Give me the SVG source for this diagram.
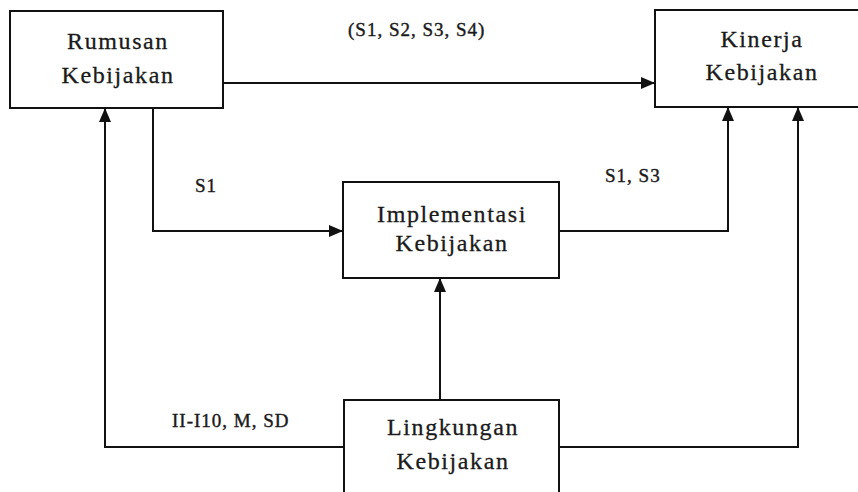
<svg xmlns="http://www.w3.org/2000/svg" width="858" height="492" viewBox="0 0 858 492">
<style>
.box{fill:#fff;stroke:#111;stroke-width:2}
.t{font-family:"Liberation Serif","Times New Roman",serif;font-size:24px;fill:#1a1a1a;stroke:#1a1a1a;stroke-width:0.3px;text-anchor:middle;letter-spacing:1.6px}
.l{font-family:"Liberation Serif","Times New Roman",serif;font-size:19px;fill:#1a1a1a;stroke:#1a1a1a;stroke-width:0.4px;letter-spacing:1px}
.c{fill:none;stroke:#111;stroke-width:2}
</style>
<defs>
<marker id="ah" viewBox="0 0 14 12" refX="14" refY="6" markerWidth="14" markerHeight="12" markerUnits="userSpaceOnUse" orient="auto">
<path d="M0,0 L14,6 L0,12 Z" fill="#111"/>
</marker>
</defs>
<rect width="858" height="492" fill="#fff"/>
<g id="connectors">
<path class="c" d="M223,83 H655" marker-end="url(#ah)"/>
<path class="c" d="M153,108 V231 H343" marker-end="url(#ah)"/>
<path class="c" d="M559,231 H728 V107" marker-end="url(#ah)"/>
<path class="c" d="M344,447 H105 V108" marker-end="url(#ah)"/>
<path class="c" d="M559,447 H798 V107" marker-end="url(#ah)"/>
<path class="c" d="M440,400 V278" marker-end="url(#ah)"/>
</g>
<g id="labels">
<text class="l" x="348" y="36">(S1, S2, S3, S4)</text>
<text class="l" x="195" y="192">S1</text>
<text class="l" x="605" y="182">S1, S3</text>
<text class="l" x="172" y="427">II-I10, M, SD</text>
</g>
<g id="rumusan">
<rect class="box" x="10" y="11" width="213" height="97"/>
<text class="t" x="118" y="49">Rumusan</text>
<text class="t" x="118" y="83">Kebijakan</text>
</g>
<g id="kinerja">
<rect class="box" x="655" y="10" width="212" height="97"/>
<text class="t" x="762" y="47">Kinerja</text>
<text class="t" x="762" y="80">Kebijakan</text>
</g>
<g id="implementasi">
<rect class="box" x="343" y="182" width="216" height="96"/>
<text class="t" x="452" y="222">Implementasi</text>
<text class="t" x="452" y="251">Kebijakan</text>
</g>
<g id="lingkungan">
<rect class="box" x="344" y="400" width="215" height="100"/>
<text class="t" x="453" y="435">Lingkungan</text>
<text class="t" x="453" y="469">Kebijakan</text>
</g>
</svg>
